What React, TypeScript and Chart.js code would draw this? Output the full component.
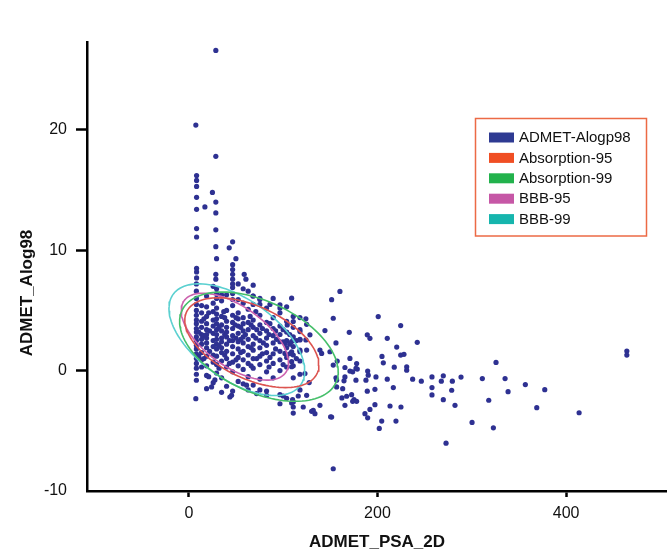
import React, { useEffect, useRef } from "react";
import { Chart, registerables } from "chart.js";

Chart.register(...registerables);

const X_MIN = -108;
const X_MAX = 507;
const Y_MIN = -10;
const Y_MAX = 27.3;
const xTicks = [0, 200, 400];
const yTicks = [-10, 0, 10, 20];

const xTitle = "ADMET_PSA_2D";
const yTitle = "ADMET_Alog98";
const scatterLabel = "ADMET-Alogp98";

// isolated high points
const topPoints: number[][] = [
  [28.6, 26.6], [7.4, 20.4], [28.6, 17.8],
  [8.2, 16.2], [8.2, 15.8], [8.2, 15.3], [8.2, 14.4], [8.2, 13.4], [17, 13.6], [25, 14.8],
  [28.6, 14.0], [28.6, 13.1], [8.2, 11.8], [8.2, 11.1], [28.6, 11.7], [28.6, 10.3],
  [46.4, 10.7], [42.8, 10.2], [49.9, 9.3], [46.4, 8.8], [8.2, 8.5], [8.2, 8.2], [8.2, 7.7],
  [28.6, 8.0], [28.6, 7.6], [46.4, 8.4], [46.4, 8.0], [46.4, 7.6], [58.7, 8.0], [60.5, 7.6],
];

// dense cluster, read column by column
const clusterColumnX = [8, 13.5, 18.8, 25.8, 29.4, 34.7, 40, 46.4, 52.3, 57.6, 62.9, 68.2, 75.3, 82.4, 89.4, 96.6, 103.7, 110.7, 117.8];
const clusterColumnY: number[][] = [
  [5.5, 5.0, 4.6, 4.2, 3.9, 3.5, 3.2, 2.8, 2.5, 2.1, 1.8, 1.4, 1.0, 0.6, 0.2, -0.3, -0.8, 7.2, 6.6, 6.0],
  [4.8, 4.1, 3.6, 3.0, 2.6, 2.2, 1.5, 0.9, 0.3, 5.4],
  [6.2, 5.3, 4.5, 3.9, 3.4, 3.0, 2.7, 2.3, 1.9, 1.2, 0.4, -0.4, -1.5],
  [5.6, 4.9, 4.2, 3.7, 3.1, 2.5, 2.0, 1.3, 0.7, -1.0, 7.0],
  [9.3, 6.8, 6.0, 5.2, 4.7, 4.3, 3.9, 3.4, 3.0, 2.6, 2.2, 1.8, 1.2, 0.5, -0.2, 6.4],
  [5.8, 4.5, 3.8, 3.3, 2.7, 2.4, 1.9, 1.5, 0.8, -0.6, -1.8, 6.3],
  [6.3, 5.0, 4.1, 3.6, 3.2, 2.8, 2.2, 1.6, 1.0, 0.3, -1.3],
  [6.9, 6.4, 5.9, 5.4, 4.6, 4.0, 3.5, 2.9, 2.5, 2.0, 1.4, 0.7, -0.1, -1.7, 7.2],
  [7.2, 5.9, 4.8, 4.3, 3.7, 3.1, 2.4, 1.8, 1.1, 0.4, -0.9],
  [5.6, 4.4, 3.9, 3.3, 2.8, 2.3, 1.6, 0.9, 0.1, -1.1, 6.8],
  [6.6, 5.1, 4.0, 3.4, 2.6, 2.0, 1.3, 0.6, -0.5, -1.6],
  [7.1, 6.2, 5.5, 4.2, 3.6, 2.9, 2.2, 1.7, 1.0, 0.2, -1.2],
  [5.9, 5.5, 4.6, 3.8, 3.1, 2.5, 1.9, 1.2, 0.5, -0.7, -1.6],
  [5.2, 4.0, 3.3, 2.7, 2.1, 1.5, 0.8, -0.1, -1.7, -2.05],
  [6.0, 4.4, 3.5, 2.9, 2.3, 1.4, 0.6, -0.6],
  [5.2, 4.8, 3.7, 3.0, 2.4, 1.6, 0.9, 0.0, -2.0, -2.75],
  [5.3, 4.1, 3.2, 2.5, 1.9, 1.1, 0.3, -2.3],
  [4.5, 3.6, 2.8, 2.0, 1.3, 0.4, -0.6, -2.6],
  [3.4, 2.6, 1.7, 0.8, -0.3, -1.6],
];

// scattered points inside / below the cluster
const clusterExtraPoints: number[][] = [
  [22, 3.3], [22, 1.6], [37, 4.9], [43, 2.5], [43, 0.6], [49, 3.8], [55, 1.5], [60, 3.0], [65, 4.5],
  [72, 3.4], [72, 1.0], [79, 2.3], [86, 3.9], [86, 1.1], [93, 2.6], [100, 3.4], [100, 0.5], [107, 2.2],
  [114, 1.0], [24.1, -1.35], [27.6, -0.77], [43.5, -2.19], [45.3, -2.05], [61.2, -1.21], [71.8, -1.91],
  [7.4, -2.33], [130.2, -3.38], [151.4, -3.86], [68, 6.2], [75.3, 6.0], [86, 5.5],
  [16, 4.3], [16, 2.9], [16, 1.0], [32, 3.6], [32, 2.1], [32, 0.2], [38, 4.4], [38, 3.0], [38, 1.3],
  [50, 4.4], [50, 2.7], [50, 0.9], [55, 3.6], [55, 2.6], [66, 3.8], [66, 1.9], [66, 0.4], [71, 4.9],
  [71, 2.7], [78, 3.5], [78, 1.4], [85, 3.0], [85, 0.3], [92, 3.3], [92, 1.8], [100, 2.4], [107, 3.0],
  [107, 1.4], [114, 2.5], [10.5, 3.2], [10.5, 1.2], [21, 4.8], [21, -0.5],
];

// sparse tail to the right
const tailPoints: number[][] = [
  [109.0, 6.02], [151.4, 5.89], [160.2, 6.58], [153.1, 4.35], [200.8, 4.49], [224.6, 3.74], [144.3, 3.33],
  [170.1, 3.18], [189.2, 2.97], [192.0, 2.68], [210.4, 2.68], [242.2, 2.35], [156.0, 2.30], [220.4, 1.96],
  [204.8, 1.18], [224.6, 1.29], [228.1, 1.35], [170.8, 1.01], [139.0, 1.71], [140.8, 1.43], [149.6, 1.57],
  [153.1, 0.46], [157.3, 0.79], [177.9, 0.59], [177.2, 0.18], [165.5, 0.26], [206.2, 0.65], [231.0, 0.32],
  [231.0, 0.04], [217.8, 0.29], [325.7, 0.68], [156.0, -0.60], [156.7, -0.79], [165.5, -0.52], [164.5, -0.85],
  [170.8, -0.04], [173.7, -0.10], [178.6, 0.13], [177.2, -0.79], [189.6, -0.04], [190.2, -0.38], [187.8, -0.79],
  [198.4, -0.52], [210.4, -0.71], [237.3, -0.71], [246.5, -0.88], [257.8, -0.52], [269.8, -0.43], [267.7, -0.88],
  [279.4, -0.88], [288.6, -0.54], [311.2, -0.66], [335.3, -0.66], [356.8, -1.16], [377.4, -1.58], [338.5, -1.75],
  [278.7, -1.63], [257.8, -1.41], [257.8, -2.02], [269.8, -2.41], [282.2, -2.88], [318.0, -2.46], [368.9, -3.08],
  [413.8, -3.50], [464.4, 1.63], [464.4, 1.29], [300.3, -4.30], [322.9, -4.75], [272.7, -6.03], [153.1, -8.15],
  [162.3, -2.27], [167.3, -2.13], [172.6, -2.00], [173.7, -2.55], [175.1, -2.41], [177.9, -2.55], [165.5, -2.88],
  [156.7, -1.35], [163.1, -1.50], [197.3, -1.55], [189.2, -1.71], [216.8, -1.41], [197.3, -2.83], [213.3, -2.94],
  [224.9, -3.02], [192.0, -3.22], [186.7, -3.58], [189.6, -3.92], [204.5, -4.19], [201.9, -4.80], [219.6, -4.19],
  [150.3, -3.83], [139.0, -2.88], [131.9, -3.30], [133.7, -3.58], [121.3, -3.02], [110.7, -3.02], [110.7, -3.53],
  [100.1, -2.11], [116.0, -2.11], [124.9, -2.05], [110.0, -2.41], [109.0, -2.69], [127.6, -0.99], [123.1, -0.24],
  [117.8, 1.57], [124.9, 1.71], [117.8, 4.41], [124.1, 4.30], [124.9, 3.85], [128.4, 2.97], [124.1, 2.55],
  [117.8, 2.55], [117.8, 3.24], [109.0, 2.41], [109.0, 1.57], [109.0, 0.74], [109.0, 0.32], [101.9, 2.26],
  [101.9, 1.43], [96.6, 5.47], [110.7, 4.08], [104.3, 3.80],
];

// confidence ellipses (data units)
const ellipseNames = ["Absorption-95", "Absorption-99", "BBB-95", "BBB-99"];
const ellipseCenterX = [66.8, 74.3, 48.8, 50.9];
const ellipseCenterY = [2.32, 1.99, 2.82, 2.57];
const ellipseHalfWidth = [71.1, 84.1, 56.9, 72.0];
const ellipseHalfHeight = [3.73, 4.54, 3.61, 4.64];
const ellipseCorrelation = [-0.5, -0.46, -0.6, -0.56];

const scatterColor = "#2e3192";
const ellipseLineColors = ["#dc5450", "#45bf6a", "#cc62ae", "#5ad0d0"];
const legendColors = ["#2e3a92", "#f04e23", "#22b24c", "#c657a6", "#16b5ad"];
const legendLabels = [scatterLabel, ...ellipseNames];

const FONT = "'Liberation Sans', Arial, Helvetica, sans-serif";

function ellipseOutline(i: number) {
  const pts: { x: number; y: number }[] = [];
  const rho = ellipseCorrelation[i];
  const s = Math.sqrt(1 - rho * rho);
  for (let d = 0; d <= 360; d += 3) {
    const t = (d * Math.PI) / 180;
    pts.push({
      x: ellipseCenterX[i] + ellipseHalfWidth[i] * Math.cos(t),
      y: ellipseCenterY[i] + ellipseHalfHeight[i] * (rho * Math.cos(t) + s * Math.sin(t)),
    });
  }
  return pts;
}

const overlayPlugin = {
  id: "overlay",
  afterDraw(chart: any) {
    const ctx = chart.ctx as CanvasRenderingContext2D;
    // y-axis title
    ctx.save();
    ctx.translate(27, 293);
    ctx.rotate(-Math.PI / 2);
    ctx.font = `bold 17px ${FONT}`;
    ctx.fillStyle = "#111";
    ctx.textAlign = "center";
    ctx.textBaseline = "middle";
    ctx.fillText(yTitle, 0, 0);
    ctx.restore();

    // legend box
    ctx.save();
    ctx.fillStyle = "#fff";
    ctx.fillRect(475.5, 118.5, 171, 117.5);
    ctx.strokeStyle = "#ec6a45";
    ctx.lineWidth = 1.5;
    ctx.strokeRect(475.5, 118.5, 171, 117.5);
    ctx.font = `15px ${FONT}`;
    ctx.textAlign = "left";
    ctx.textBaseline = "middle";
    legendLabels.forEach((lab, i) => {
      const cy = 137.5 + i * 20.4;
      ctx.fillStyle = legendColors[i];
      ctx.fillRect(489, cy - 5, 25, 10);
      ctx.fillStyle = "#111";
      ctx.fillText(lab, 519, cy + 0.5);
    });
    ctx.restore();
  },
};

export default function App() {
  const canvasRef = useRef<HTMLCanvasElement | null>(null);

  useEffect(() => {
    if (!canvasRef.current) return;
    const scatter: { x: number; y: number }[] = [];
    topPoints.forEach(([x, y]) => scatter.push({ x, y }));
    clusterColumnX.forEach((x, ci) => clusterColumnY[ci].forEach((y) => scatter.push({ x, y })));
    clusterExtraPoints.forEach(([x, y]) => scatter.push({ x, y }));
    tailPoints.forEach(([x, y]) => scatter.push({ x, y }));

    const ellipseSets = ellipseNames.map((name, i) => ({
      type: "line" as const,
      label: name,
      data: ellipseOutline(i),
      borderColor: ellipseLineColors[i],
      borderWidth: 1.6,
      pointRadius: 0,
      fill: false,
      tension: 0,
      order: 1,
    }));

    const chart = new Chart(canvasRef.current, {
      type: "scatter",
      data: {
        datasets: [
          {
            label: scatterLabel,
            data: scatter,
            backgroundColor: scatterColor,
            borderWidth: 0,
            pointRadius: 2.6,
            order: 2,
          } as any,
          ...ellipseSets,
        ],
      },
      options: {
        animation: false,
        responsive: false,
        maintainAspectRatio: false,
        layout: { autoPadding: false, padding: { top: 42, right: 0, left: 0, bottom: 0 } },
        plugins: { legend: { display: false }, tooltip: { enabled: false } },
        scales: {
          x: {
            type: "linear",
            min: X_MIN,
            max: X_MAX,
            afterBuildTicks: (s: any) => {
              s.ticks = xTicks.map((v) => ({ value: v }));
            },
            afterFit: (s: any) => {
              s.height = 63;
            },
            border: { display: true, color: "#000", width: 2.5 },
            grid: { drawOnChartArea: false, drawTicks: true, tickLength: 6, tickWidth: 2.5, tickColor: "#000" },
            ticks: { font: { size: 16, family: FONT }, color: "#111", padding: 7, maxRotation: 0 },
            title: {
              display: true,
              text: xTitle,
              font: { size: 17, weight: "bold", family: FONT },
              color: "#111",
              padding: { top: 0, bottom: 1 },
            },
          },
          y: {
            type: "linear",
            min: Y_MIN,
            max: Y_MAX,
            afterBuildTicks: (s: any) => {
              s.ticks = yTicks.map((v) => ({ value: v }));
            },
            afterFit: (s: any) => {
              s.width = 87;
            },
            border: { display: true, color: "#000", width: 2.5 },
            grid: {
              drawOnChartArea: false,
              drawTicks: true,
              tickLength: 11,
              tickWidth: 2.5,
              tickColor: (c: any) => (c.tick && c.tick.value === Y_MIN ? "rgba(0,0,0,0)" : "#000"),
            },
            ticks: { font: { size: 16, family: FONT }, color: "#111", padding: 9 },
          },
        },
      },
      plugins: [overlayPlugin],
    } as any);
    return () => chart.destroy();
  }, []);

  return (
    <div style={{ position: "fixed", left: 0, top: 0, width: 667, height: 554, background: "#fff" }}>
      <canvas ref={canvasRef} width={667} height={554} />
    </div>
  );
}
